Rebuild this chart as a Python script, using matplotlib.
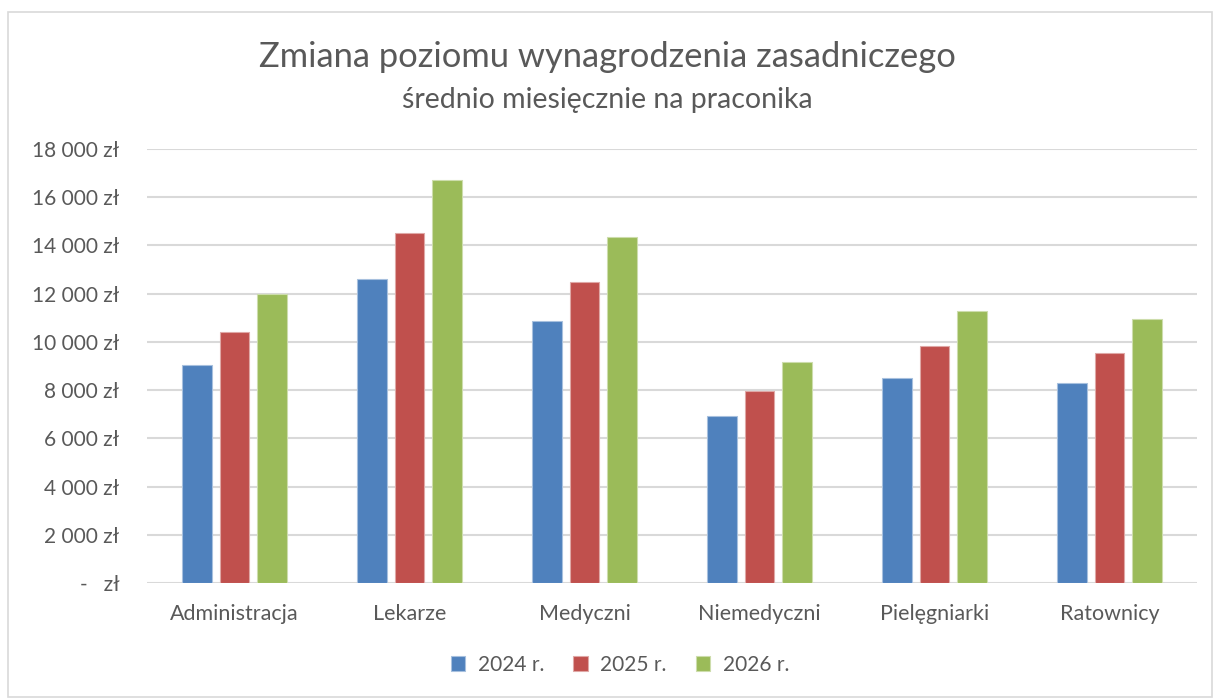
import matplotlib
matplotlib.use("Agg")
import matplotlib.pyplot as plt
import numpy as np
from matplotlib.patches import Rectangle
from matplotlib.ticker import FuncFormatter, MultipleLocator

categories = ["Administracja", "Lekarze", "Medyczni", "Niemedyczni", "Pielęgniarki", "Ratownicy"]
series_names = ["2024 r.", "2025 r.", "2026 r."]
v2024 = [9060, 12620, 10850, 6940, 8520, 8290]
v2025 = [10420, 14510, 12470, 7980, 9810, 9550]
v2026 = [12000, 16700, 14360, 9170, 11280, 10960]
colors = ["#4F81BD", "#C0504D", "#9BBB59"]
edges = ["#A7C0DE", "#DFA8A6", "#CDDDAC"]

plt.rcParams['font.family'] = ['Lato', 'DejaVu Sans']
txt = "#595959"

fig = plt.figure(figsize=(12.14, 6.98), dpi=100)
W, H = 1214, 698
ax = fig.add_axes([147 / W, 1 - 583 / H, (1197 - 147) / W, (583 - 149) / H])

x = np.arange(len(categories))
width = 0.17
step = 0.215
for i, (vals, c, e, n) in enumerate(zip([v2024, v2025, v2026], colors, edges, series_names)):
    ax.bar(x + (i - 1) * step, vals, width, color=c, edgecolor=e, linewidth=0.8, label=n, zorder=3)

ax.set_xlim(-0.5, len(categories) - 0.5)
ax.set_ylim(0, 18000)
ax.yaxis.set_major_locator(MultipleLocator(2000))

def fmt(v, pos):
    if v == 0:
        return "-   zł"
    return f"{int(v):,}".replace(",", " ") + " zł"

ax.yaxis.set_major_formatter(FuncFormatter(fmt))
ax.grid(axis="y", color="#D9D9D9", linewidth=1.5, zorder=0)
for s in ax.spines.values():
    s.set_visible(False)
ax.tick_params(axis="y", length=0, pad=20, labelsize=15, labelcolor=txt)
ax.tick_params(axis="x", length=0, pad=15, labelsize=15.5, labelcolor=txt)
ax.set_xticks(x)
ax.set_xticklabels(categories)

fig.text(0.5, 1 - 57 / H, "Zmiana poziomu wynagrodzenia zasadniczego", ha="center", va="center",
         fontsize=24.8, color=txt)
fig.text(0.5, 1 - 100 / H, "średnio miesięcznie na praconika", ha="center", va="center",
         fontsize=20.5, color=txt)

leg = fig.legend(loc="center", bbox_to_anchor=(620 / W, 1 - 665 / H), ncol=3, frameon=False,
                 fontsize=15, handlelength=0.7, handleheight=0.7, columnspacing=1.4,
                 handletextpad=0.6)
for t in leg.get_texts():
    t.set_color(txt)

fig.patches.append(Rectangle((8 / W, 1 / H), (1212 - 8) / W, (686 - 1) / H, transform=fig.transFigure,
                             fill=False, edgecolor="#D9D9D9", linewidth=1.2))

fig.savefig("out.png", dpi=100, facecolor="white")
